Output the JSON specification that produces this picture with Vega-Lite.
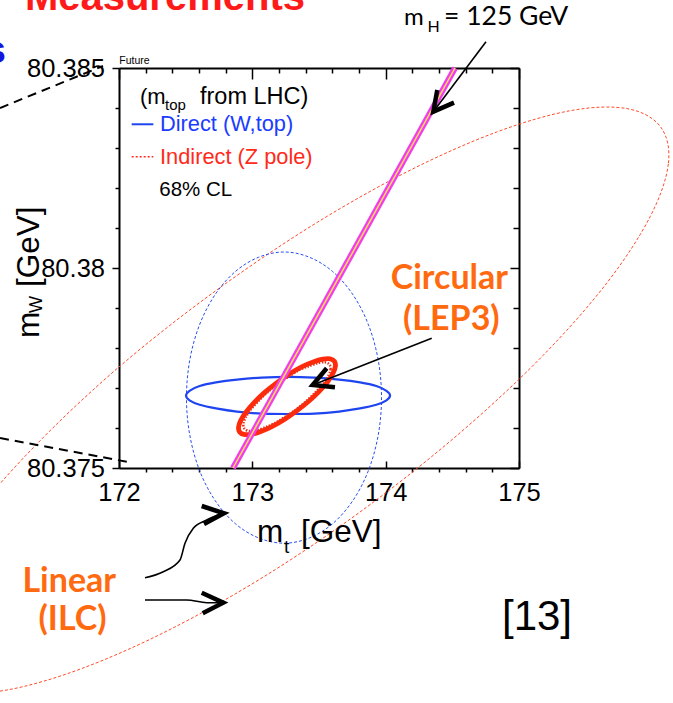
{
"$schema": "https://vega.github.io/schema/vega-lite/v6.json",
"width": 400, "height": 400,
"autosize": {"type": "none"},
"padding": {"left": 119, "top": 68, "right": 154, "bottom": 235},
"background": "white",
"config": {"view": {"stroke": null}},
"resolve": {"axis": {"x": "independent", "y": "independent"}},
"datasets": {
"ilc": [{"i":0,"x":176.0635,"y":80.38352},{"i":1,"x":176.12,"y":80.3826},{"i":2,"x":175.983,"y":80.38128},{"i":3,"x":175.662,"y":80.37964},{"i":4,"x":175.179,"y":80.37781},{"i":5,"x":174.565,"y":80.3759},{"i":6,"x":173.865,"y":80.37404},{"i":7,"x":173.124,"y":80.37236},{"i":8,"x":172.393,"y":80.37098},{"i":9,"x":171.723,"y":80.36999},{"i":10,"x":171.159,"y":80.36945},{"i":11,"x":170.739,"y":80.36941},{"i":12,"x":170.493,"y":80.36987},{"i":13,"x":170.436,"y":80.37079},{"i":14,"x":170.573,"y":80.37211},{"i":15,"x":170.894,"y":80.37375},{"i":16,"x":171.378,"y":80.37558},{"i":17,"x":171.991,"y":80.3775},{"i":18,"x":172.692,"y":80.37935},{"i":19,"x":173.433,"y":80.38103},{"i":20,"x":174.163,"y":80.38241},{"i":21,"x":174.833,"y":80.3834},{"i":22,"x":175.397,"y":80.38394},{"i":23,"x":175.817,"y":80.38398}],
"bdash": [{"i":0,"x":173.969,"y":80.37676},{"i":1,"x":173.944,"y":80.3777},{"i":2,"x":173.871,"y":80.37858},{"i":3,"x":173.755,"y":80.37933},{"i":4,"x":173.603,"y":80.37991},{"i":5,"x":173.427,"y":80.38027},{"i":6,"x":173.238,"y":80.3804},{"i":7,"x":173.048,"y":80.38027},{"i":8,"x":172.872,"y":80.37991},{"i":9,"x":172.72,"y":80.37933},{"i":10,"x":172.604,"y":80.37858},{"i":11,"x":172.531,"y":80.3777},{"i":12,"x":172.506,"y":80.37676},{"i":13,"x":172.531,"y":80.37582},{"i":14,"x":172.604,"y":80.37494},{"i":15,"x":172.72,"y":80.37419},{"i":16,"x":172.872,"y":80.37361},{"i":17,"x":173.048,"y":80.37325},{"i":18,"x":173.238,"y":80.37312},{"i":19,"x":173.427,"y":80.37325},{"i":20,"x":173.603,"y":80.37361},{"i":21,"x":173.755,"y":80.37419},{"i":22,"x":173.871,"y":80.37494},{"i":23,"x":173.944,"y":80.37582}],
"bsolid": [{"i":0,"x":174.033,"y":80.37681},{"i":1,"x":174.006,"y":80.37693},{"i":2,"x":173.93,"y":80.37705},{"i":3,"x":173.808,"y":80.37714},{"i":4,"x":173.65,"y":80.37721},{"i":5,"x":173.466,"y":80.37726},{"i":6,"x":173.268,"y":80.37728},{"i":7,"x":173.07,"y":80.37726},{"i":8,"x":172.885,"y":80.37721},{"i":9,"x":172.727,"y":80.37714},{"i":10,"x":172.605,"y":80.37705},{"i":11,"x":172.529,"y":80.37693},{"i":12,"x":172.503,"y":80.37681},{"i":13,"x":172.529,"y":80.37669},{"i":14,"x":172.605,"y":80.37658},{"i":15,"x":172.727,"y":80.37649},{"i":16,"x":172.885,"y":80.37641},{"i":17,"x":173.07,"y":80.37636},{"i":18,"x":173.268,"y":80.37635},{"i":19,"x":173.466,"y":80.37636},{"i":20,"x":173.65,"y":80.37641},{"i":21,"x":173.808,"y":80.37649},{"i":22,"x":173.93,"y":80.37658},{"i":23,"x":174.006,"y":80.37669}],
"rthick": [{"i":0,"x":173.6153,"y":80.37767},{"i":1,"x":173.6233,"y":80.37755},{"i":2,"x":173.6066,"y":80.37738},{"i":3,"x":173.5663,"y":80.37716},{"i":4,"x":173.5051,"y":80.37693},{"i":5,"x":173.4272,"y":80.37668},{"i":6,"x":173.3379,"y":80.37644},{"i":7,"x":173.2433,"y":80.37622},{"i":8,"x":173.1498,"y":80.37604},{"i":9,"x":173.0638,"y":80.37591},{"i":10,"x":172.9913,"y":80.37584},{"i":11,"x":172.9371,"y":80.37584},{"i":12,"x":172.9047,"y":80.3759},{"i":13,"x":172.8967,"y":80.37602},{"i":14,"x":172.9134,"y":80.37619},{"i":15,"x":172.9537,"y":80.3764},{"i":16,"x":173.0149,"y":80.37664},{"i":17,"x":173.0928,"y":80.37689},{"i":18,"x":173.1822,"y":80.37713},{"i":19,"x":173.2767,"y":80.37735},{"i":20,"x":173.3703,"y":80.37753},{"i":21,"x":173.4562,"y":80.37765},{"i":22,"x":173.5287,"y":80.37772},{"i":23,"x":173.583,"y":80.37773}],
"rdot": [{"i":0,"x":173.5798,"y":80.37758},{"i":1,"x":173.587,"y":80.37747},{"i":2,"x":173.5719,"y":80.37732},{"i":3,"x":173.5357,"y":80.37712},{"i":4,"x":173.4806,"y":80.37692},{"i":5,"x":173.4105,"y":80.37669},{"i":6,"x":173.3301,"y":80.37647},{"i":7,"x":173.245,"y":80.37628},{"i":8,"x":173.1608,"y":80.37611},{"i":9,"x":173.0834,"y":80.376},{"i":10,"x":173.0182,"y":80.37593},{"i":11,"x":172.9694,"y":80.37593},{"i":12,"x":172.9402,"y":80.37599},{"i":13,"x":172.933,"y":80.3761},{"i":14,"x":172.9481,"y":80.37625},{"i":15,"x":172.9843,"y":80.37644},{"i":16,"x":173.0394,"y":80.37665},{"i":17,"x":173.1095,"y":80.37688},{"i":18,"x":173.19,"y":80.3771},{"i":19,"x":173.275,"y":80.37729},{"i":20,"x":173.3593,"y":80.37746},{"i":21,"x":173.4366,"y":80.37756},{"i":22,"x":173.5018,"y":80.37763},{"i":23,"x":173.5507,"y":80.37764}],
"band": [{"x":172.855,"y":80.375},{"x":174.52,"y":80.385}],
"dashes": [{"g":"a","i":0,"x":171.1075,"y":80.384},{"g":"a","i":1,"x":171.88,"y":80.38505},{"g":"b","i":0,"x":171.1075,"y":80.37575},{"g":"b","i":1,"x":172.0675,"y":80.37515}],
"shafts": [{"g":"mh","i":0,"x":174.7525,"y":80.385658},{"g":"mh","i":1,"x":174.35725,"y":80.383908},{"g":"circ","i":0,"x":174.34525,"y":80.378243},{"g":"circ","i":1,"x":173.45275,"y":80.377075},{"g":"lin1","i":0,"x":172.195,"y":80.372258},{"g":"lin1","i":1,"x":172.33225,"y":80.372408},{"g":"lin1","i":2,"x":172.4575,"y":80.3727},{"g":"lin1","i":3,"x":172.495,"y":80.373118},{"g":"lin1","i":4,"x":172.55725,"y":80.373493},{"g":"lin1","i":5,"x":172.65775,"y":80.3737},{"g":"lin1","i":6,"x":172.7725,"y":80.373868},{"g":"lin2","i":0,"x":172.195,"y":80.3717},{"g":"lin2","i":1,"x":172.50775,"y":80.3717},{"g":"lin2","i":2,"x":172.65775,"y":80.371633},{"g":"lin2","i":3,"x":172.77775,"y":80.371633}],
"heads": [{"g":"mh","i":0,"x":174.38725,"y":80.38445},{"g":"mh","i":1,"x":174.35725,"y":80.383908},{"g":"mh","i":2,"x":174.5125,"y":80.384133},{"g":"circ","i":0,"x":173.55775,"y":80.377493},{"g":"circ","i":1,"x":173.45275,"y":80.377075},{"g":"circ","i":2,"x":173.62,"y":80.377018},{"g":"lin1","i":0,"x":172.62025,"y":80.37405},{"g":"lin1","i":1,"x":172.7875,"y":80.373868},{"g":"lin1","i":2,"x":172.6375,"y":80.3736},{"g":"lin2","i":0,"x":172.62025,"y":80.371883},{"g":"lin2","i":1,"x":172.78225,"y":80.371633},{"g":"lin2","i":2,"x":172.62775,"y":80.371368}],
"legblue": [{"x":172.095,"y":80.383593},{"x":172.2575,"y":80.383593}],
"legred": [{"x":172.095,"y":80.382783},{"x":172.2575,"y":80.382783}],
"t_title": [{"text":"m","x":173.035,"y":80.373158},{"text":"[GeV]","x":173.365,"y":80.373158}],
"t_sub": [{"text":"t","x":173.2375,"y":80.372875}],
"t_ytitle": [{"text":"m","x":171.39625,"y":80.37825},{"text":"[GeV]","x":171.39625,"y":80.379525}],
"t_ysub": [{"text":"W","x":171.4225,"y":80.378875}],
"t_legm": [{"text":"(m","x":172.1575,"y":80.3841}],
"t_leghead": [{"text":"from LHC)","x":172.6075,"y":80.3841}],
"t_legsub": [{"text":"top","x":172.345,"y":80.38395}],
"t_blue": [{"text":"Direct (W,top)","x":172.3075,"y":80.383413}],
"t_red": [{"text":"Indirect (Z pole)","x":172.3075,"y":80.3826}],
"t_cl": [{"text":"68% CL","x":172.302,"y":80.381788}],
"t_orange": [{"text":"Circular","x":174.47775,"y":80.379468},{"text":"(LEP3)","x":174.49275,"y":80.37845},{"text":"Linear","x":171.6265,"y":80.371908},{"text":"(ILC)","x":171.65125,"y":80.37095}],
"t_mhm": [{"text":"m","x":174.1375,"y":80.386075}],
"t_mh": [{"text":"= 125 GeV","x":174.4375,"y":80.386075}],
"t_mhsub": [{"text":"H","x":174.31375,"y":80.385908}],
"t_ref": [{"text":"[13]","x":175.135,"y":80.37095}],
"t_future": [{"text":"Future","x":172.00225,"y":80.385093}],
"t_head": [{"text":"Measurements","x":173.395,"y":80.38645}],
"t_blues": [{"text":"s","x":171.1525,"y":80.385125}]
},
"layer": [
{"data":{"name":"ilc"},"mark":{"type":"line","interpolate":"cardinal-closed","color":"#ff4a2a","strokeWidth":1,"strokeDash":[3,2]},
 "encoding":{
  "x":{"field":"x","type":"quantitative","scale":{"domain":[172,175],"nice":false,"zero":false},"axis":{"orient":"bottom","values":[172,173,174,175],"format":"d","ticks":false,"labelPadding":12,"labelFont":"Liberation Sans","labelFontSize":25.5,"labelColor":"black","labelFlush":false,"labelOverlap":false,"domain":true,"domainColor":"black","domainWidth":2,"grid":false,"title":null}},
  "y":{"field":"y","type":"quantitative","scale":{"domain":[80.375,80.385],"nice":false,"zero":false},"axis":{"orient":"left","values":[80.375,80.38,80.385],"format":".3~f","ticks":false,"labelPadding":14.5,"labelFont":"Liberation Sans","labelFontSize":25.5,"labelColor":"black","labelFlush":false,"labelOverlap":false,"labelBaseline":"middle","domain":true,"domainColor":"black","domainWidth":2,"grid":false,"title":null}},
  "order":{"field":"i"}}},
{"data":{"name":"bdash"},"mark":{"type":"line","interpolate":"cardinal-closed","color":"#2a4ff0","strokeWidth":1,"strokeDash":[3,2]},
 "encoding":{
  "x":{"field":"x","type":"quantitative","scale":{"domain":[172,175],"nice":false,"zero":false},"axis":{"orient":"bottom","values":[172,173,174,175],"labels":false,"tickSize":-7,"tickWidth":1.5,"tickColor":"black","domain":false,"grid":false,"title":null}},
  "y":{"field":"y","type":"quantitative","scale":{"domain":[80.375,80.385],"nice":false,"zero":false},"axis":{"orient":"left","values":[80.375,80.38,80.385],"labels":false,"tickSize":7,"tickWidth":1.5,"tickColor":"black","domain":false,"grid":false,"title":null}},
  "order":{"field":"i"}}},
{"data":{"name":"bsolid"},"mark":{"type":"line","interpolate":"cardinal-closed","color":"#1f45f0","strokeWidth":2.2},
 "encoding":{
  "x":{"field":"x","type":"quantitative","scale":{"domain":[172,175],"nice":false,"zero":false},"axis":{"orient":"bottom","values":[172.2,172.4,172.6,172.8,173.2,173.4,173.6,173.8,174.2,174.4,174.6,174.8],"labels":false,"tickSize":4,"tickWidth":1.5,"tickColor":"black","domain":false,"grid":false,"title":null}},
  "y":{"field":"y","type":"quantitative","scale":{"domain":[80.375,80.385],"nice":false,"zero":false},"axis":{"orient":"left","values":[80.376,80.377,80.378,80.379,80.381,80.382,80.383,80.384],"labels":false,"tickSize":4,"tickWidth":1.5,"tickColor":"black","domain":false,"grid":false,"title":null}},
  "order":{"field":"i"}}},
{"data":{"name":"rthick"},"mark":{"type":"line","interpolate":"cardinal-closed","color":"#ff2a0a","strokeWidth":4.8},
 "encoding":{
  "x":{"field":"x","type":"quantitative","scale":{"domain":[172,175],"nice":false,"zero":false},"axis":{"orient":"top","values":[172,173,174,175],"labels":false,"tickSize":-11,"tickWidth":1.5,"tickColor":"black","domain":true,"domainColor":"black","domainWidth":2,"grid":false,"title":null}},
  "y":{"field":"y","type":"quantitative","scale":{"domain":[80.375,80.385],"nice":false,"zero":false},"axis":{"orient":"right","values":[80.375,80.38,80.385],"labels":false,"tickSize":-9,"tickWidth":1.5,"tickColor":"black","domain":true,"domainColor":"black","domainWidth":2,"grid":false,"title":null}},
  "order":{"field":"i"}}},
{"data":{"name":"rdot"},"mark":{"type":"line","interpolate":"cardinal-closed","color":"#e8331a","strokeWidth":2.5,"strokeDash":[1.5,1.5]},
 "encoding":{
  "x":{"field":"x","type":"quantitative","scale":{"domain":[172,175],"nice":false,"zero":false},"axis":{"orient":"top","values":[172.2,172.4,172.6,172.8,173.2,173.4,173.6,173.8,174.2,174.4,174.6,174.8],"labels":false,"tickSize":-5,"tickWidth":1.5,"tickColor":"black","domain":false,"grid":false,"title":null}},
  "y":{"field":"y","type":"quantitative","scale":{"domain":[80.375,80.385],"nice":false,"zero":false},"axis":{"orient":"right","values":[80.376,80.377,80.378,80.379,80.381,80.382,80.383,80.384],"labels":false,"tickSize":-6,"tickWidth":1.5,"tickColor":"black","domain":false,"grid":false,"title":null}},
  "order":{"field":"i"}}},
{"data":{"name":"band"},"mark":{"type":"line","color":"#f03cf0","strokeWidth":6},
 "encoding":{"x":{"field":"x","type":"quantitative","scale":{"domain":[172,175],"nice":false,"zero":false},"axis":null},"y":{"field":"y","type":"quantitative","scale":{"domain":[80.375,80.385],"nice":false,"zero":false},"axis":null}}},
{"data":{"name":"band"},"mark":{"type":"line","color":"#ffe14d","strokeWidth":1.5},
 "encoding":{"x":{"field":"x","type":"quantitative","scale":{"domain":[172,175],"nice":false,"zero":false},"axis":null},"y":{"field":"y","type":"quantitative","scale":{"domain":[80.375,80.385],"nice":false,"zero":false},"axis":null}}},
{"data":{"name":"dashes"},"mark":{"type":"line","color":"black","strokeWidth":2,"strokeDash":[9,6]},
 "encoding":{"x":{"field":"x","type":"quantitative","scale":{"domain":[172,175],"nice":false,"zero":false},"axis":null},"y":{"field":"y","type":"quantitative","scale":{"domain":[80.375,80.385],"nice":false,"zero":false},"axis":null},"detail":{"field":"g"},"order":{"field":"i"}}},
{"data":{"name":"shafts"},"mark":{"type":"line","interpolate":"monotone","color":"black","strokeWidth":1.6},
 "encoding":{"x":{"field":"x","type":"quantitative","scale":{"domain":[172,175],"nice":false,"zero":false},"axis":null},"y":{"field":"y","type":"quantitative","scale":{"domain":[80.375,80.385],"nice":false,"zero":false},"axis":null},"detail":{"field":"g"},"order":{"field":"i"}}},
{"data":{"name":"heads"},"mark":{"type":"line","color":"black","strokeWidth":4.5,"strokeJoin":"miter","strokeCap":"butt"},
 "encoding":{"x":{"field":"x","type":"quantitative","scale":{"domain":[172,175],"nice":false,"zero":false},"axis":null},"y":{"field":"y","type":"quantitative","scale":{"domain":[80.375,80.385],"nice":false,"zero":false},"axis":null},"detail":{"field":"g"},"order":{"field":"i"}}},
{"data":{"name":"legblue"},"mark":{"type":"line","color":"#1f45f0","strokeWidth":2},
 "encoding":{"x":{"field":"x","type":"quantitative","scale":{"domain":[172,175],"nice":false,"zero":false},"axis":null},"y":{"field":"y","type":"quantitative","scale":{"domain":[80.375,80.385],"nice":false,"zero":false},"axis":null}}},
{"data":{"name":"legred"},"mark":{"type":"line","color":"#ff2a1a","strokeWidth":1.5,"strokeDash":[2,2]},
 "encoding":{"x":{"field":"x","type":"quantitative","scale":{"domain":[172,175],"nice":false,"zero":false},"axis":null},"y":{"field":"y","type":"quantitative","scale":{"domain":[80.375,80.385],"nice":false,"zero":false},"axis":null}}},
{"data":{"name":"t_title"},"mark":{"type":"text","font":"Liberation Sans","fontSize":31.5,"align":"left","baseline":"alphabetic","color":"black"},
 "encoding":{"x":{"field":"x","type":"quantitative","scale":{"domain":[172,175],"nice":false,"zero":false},"axis":null},"y":{"field":"y","type":"quantitative","scale":{"domain":[80.375,80.385],"nice":false,"zero":false},"axis":null},"text":{"field":"text","type":"nominal"}}},
{"data":{"name":"t_sub"},"mark":{"type":"text","font":"Liberation Sans","fontSize":19,"align":"left","baseline":"alphabetic","color":"black"},
 "encoding":{"x":{"field":"x","type":"quantitative","scale":{"domain":[172,175],"nice":false,"zero":false},"axis":null},"y":{"field":"y","type":"quantitative","scale":{"domain":[80.375,80.385],"nice":false,"zero":false},"axis":null},"text":{"field":"text","type":"nominal"}}},
{"data":{"name":"t_ytitle"},"mark":{"type":"text","font":"Liberation Sans","fontSize":31.5,"align":"left","baseline":"alphabetic","angle":270,"color":"black"},
 "encoding":{"x":{"field":"x","type":"quantitative","scale":{"domain":[172,175],"nice":false,"zero":false},"axis":null},"y":{"field":"y","type":"quantitative","scale":{"domain":[80.375,80.385],"nice":false,"zero":false},"axis":null},"text":{"field":"text","type":"nominal"}}},
{"data":{"name":"t_ysub"},"mark":{"type":"text","font":"Liberation Sans","fontSize":18,"align":"left","baseline":"alphabetic","angle":270,"color":"black"},
 "encoding":{"x":{"field":"x","type":"quantitative","scale":{"domain":[172,175],"nice":false,"zero":false},"axis":null},"y":{"field":"y","type":"quantitative","scale":{"domain":[80.375,80.385],"nice":false,"zero":false},"axis":null},"text":{"field":"text","type":"nominal"}}},
{"data":{"name":"t_legm"},"mark":{"type":"text","font":"Liberation Sans","fontSize":22,"align":"left","baseline":"alphabetic","color":"black"},
 "encoding":{"x":{"field":"x","type":"quantitative","scale":{"domain":[172,175],"nice":false,"zero":false},"axis":null},"y":{"field":"y","type":"quantitative","scale":{"domain":[80.375,80.385],"nice":false,"zero":false},"axis":null},"text":{"field":"text","type":"nominal"}}},
{"data":{"name":"t_leghead"},"mark":{"type":"text","font":"Liberation Sans","fontSize":23.5,"align":"left","baseline":"alphabetic","color":"black"},
 "encoding":{"x":{"field":"x","type":"quantitative","scale":{"domain":[172,175],"nice":false,"zero":false},"axis":null},"y":{"field":"y","type":"quantitative","scale":{"domain":[80.375,80.385],"nice":false,"zero":false},"axis":null},"text":{"field":"text","type":"nominal"}}},
{"data":{"name":"t_legsub"},"mark":{"type":"text","font":"Liberation Sans","fontSize":15,"align":"left","baseline":"alphabetic","color":"black"},
 "encoding":{"x":{"field":"x","type":"quantitative","scale":{"domain":[172,175],"nice":false,"zero":false},"axis":null},"y":{"field":"y","type":"quantitative","scale":{"domain":[80.375,80.385],"nice":false,"zero":false},"axis":null},"text":{"field":"text","type":"nominal"}}},
{"data":{"name":"t_blue"},"mark":{"type":"text","font":"Liberation Sans","fontSize":21.8,"align":"left","baseline":"alphabetic","color":"#1a3cff"},
 "encoding":{"x":{"field":"x","type":"quantitative","scale":{"domain":[172,175],"nice":false,"zero":false},"axis":null},"y":{"field":"y","type":"quantitative","scale":{"domain":[80.375,80.385],"nice":false,"zero":false},"axis":null},"text":{"field":"text","type":"nominal"}}},
{"data":{"name":"t_red"},"mark":{"type":"text","font":"Liberation Sans","fontSize":21.8,"align":"left","baseline":"alphabetic","color":"#ff2a1a"},
 "encoding":{"x":{"field":"x","type":"quantitative","scale":{"domain":[172,175],"nice":false,"zero":false},"axis":null},"y":{"field":"y","type":"quantitative","scale":{"domain":[80.375,80.385],"nice":false,"zero":false},"axis":null},"text":{"field":"text","type":"nominal"}}},
{"data":{"name":"t_cl"},"mark":{"type":"text","font":"Liberation Sans","fontSize":20.5,"align":"left","baseline":"alphabetic","color":"black"},
 "encoding":{"x":{"field":"x","type":"quantitative","scale":{"domain":[172,175],"nice":false,"zero":false},"axis":null},"y":{"field":"y","type":"quantitative","scale":{"domain":[80.375,80.385],"nice":false,"zero":false},"axis":null},"text":{"field":"text","type":"nominal"}}},
{"data":{"name":"t_orange"},"mark":{"type":"text","font":"Lato","fontWeight":"bold","fontSize":34,"align":"center","baseline":"alphabetic","color":"#ff6a10"},
 "encoding":{"x":{"field":"x","type":"quantitative","scale":{"domain":[172,175],"nice":false,"zero":false},"axis":null},"y":{"field":"y","type":"quantitative","scale":{"domain":[80.375,80.385],"nice":false,"zero":false},"axis":null},"text":{"field":"text","type":"nominal"}}},
{"data":{"name":"t_mhm"},"mark":{"type":"text","font":"Lato","fontSize":24,"align":"left","baseline":"alphabetic","color":"black"},
 "encoding":{"x":{"field":"x","type":"quantitative","scale":{"domain":[172,175],"nice":false,"zero":false},"axis":null},"y":{"field":"y","type":"quantitative","scale":{"domain":[80.375,80.385],"nice":false,"zero":false},"axis":null},"text":{"field":"text","type":"nominal"}}},
{"data":{"name":"t_mh"},"mark":{"type":"text","font":"Lato","fontSize":26.5,"align":"left","baseline":"alphabetic","color":"black"},
 "encoding":{"x":{"field":"x","type":"quantitative","scale":{"domain":[172,175],"nice":false,"zero":false},"axis":null},"y":{"field":"y","type":"quantitative","scale":{"domain":[80.375,80.385],"nice":false,"zero":false},"axis":null},"text":{"field":"text","type":"nominal"}}},
{"data":{"name":"t_mhsub"},"mark":{"type":"text","font":"Lato","fontSize":16,"align":"left","baseline":"alphabetic","color":"black"},
 "encoding":{"x":{"field":"x","type":"quantitative","scale":{"domain":[172,175],"nice":false,"zero":false},"axis":null},"y":{"field":"y","type":"quantitative","scale":{"domain":[80.375,80.385],"nice":false,"zero":false},"axis":null},"text":{"field":"text","type":"nominal"}}},
{"data":{"name":"t_ref"},"mark":{"type":"text","font":"Liberation Sans","fontSize":42,"align":"center","baseline":"alphabetic","color":"black"},
 "encoding":{"x":{"field":"x","type":"quantitative","scale":{"domain":[172,175],"nice":false,"zero":false},"axis":null},"y":{"field":"y","type":"quantitative","scale":{"domain":[80.375,80.385],"nice":false,"zero":false},"axis":null},"text":{"field":"text","type":"nominal"}}},
{"data":{"name":"t_future"},"mark":{"type":"text","font":"Liberation Sans","fontSize":10.5,"align":"left","baseline":"alphabetic","color":"black"},
 "encoding":{"x":{"field":"x","type":"quantitative","scale":{"domain":[172,175],"nice":false,"zero":false},"axis":null},"y":{"field":"y","type":"quantitative","scale":{"domain":[80.375,80.385],"nice":false,"zero":false},"axis":null},"text":{"field":"text","type":"nominal"}}},
{"data":{"name":"t_head"},"mark":{"type":"text","font":"Liberation Sans","fontWeight":"bold","fontSize":40,"align":"right","baseline":"alphabetic","color":"#ff1a1a"},
 "encoding":{"x":{"field":"x","type":"quantitative","scale":{"domain":[172,175],"nice":false,"zero":false},"axis":null},"y":{"field":"y","type":"quantitative","scale":{"domain":[80.375,80.385],"nice":false,"zero":false},"axis":null},"text":{"field":"text","type":"nominal"}}},
{"data":{"name":"t_blues"},"mark":{"type":"text","font":"Liberation Sans","fontWeight":"bold","fontSize":38,"align":"right","baseline":"alphabetic","color":"#1515e0"},
 "encoding":{"x":{"field":"x","type":"quantitative","scale":{"domain":[172,175],"nice":false,"zero":false},"axis":null},"y":{"field":"y","type":"quantitative","scale":{"domain":[80.375,80.385],"nice":false,"zero":false},"axis":null},"text":{"field":"text","type":"nominal"}}}
]
}
